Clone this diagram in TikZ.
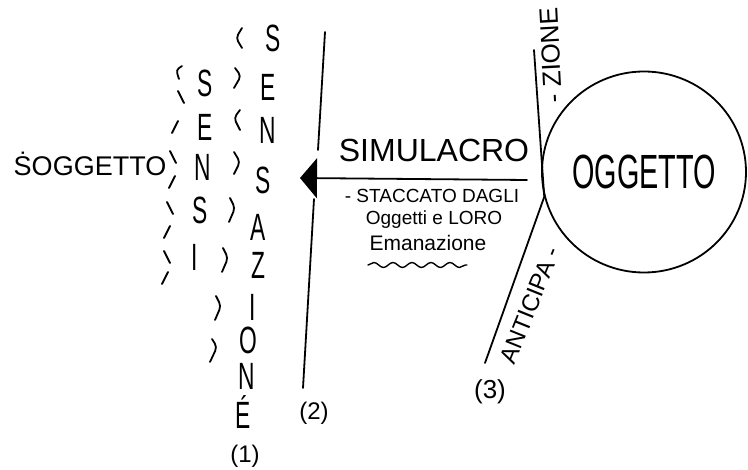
\documentclass[tikz,border=0pt]{standalone}
\usepackage{fontspec}
\setmainfont{Liberation Sans}
\newfontfamily\tallfont[FakeStretch=0.6]{Liberation Sans}
\usetikzlibrary{positioning,shapes,arrows.meta,decorations.pathmorphing}

\begin{document}
\begin{tikzpicture}[x=1pt, y=-1pt,
        pen/.style={line width=1.8pt, line cap=round, line join=round},
        letter/.style={inner sep=0pt, font=\tallfont\fontsize{38}{38}\selectfont},
        note/.style={inner sep=0pt, font=\fontsize{19}{19}\selectfont}]
    \useasboundingbox (0,0) rectangle (748,470);

    \node[inner sep=0pt, font=\fontsize{27}{27}\selectfont] (SOGG) at (90,164) {\.{S}OGGETTO};

    % sensi
    \node[letter] (SE1) at (205,83) {S};
    \node[letter] (SE2) at (205,127) {E};
    \node[letter] (SE3) at (203,167) {N};
    \node[letter] (SE4) at (200,210) {S};
    \node[letter] (SE5) at (195,257) {I};

    % sensazione
    \node[letter] (SZ1) at (273,38) {S};
    \node[letter] (SZ2) at (268,87) {E};
    \node[letter] (SZ3) at (268,130) {N};
    \node[letter] (SZ4) at (263,180) {S};
    \node[letter] (SZ5) at (258,227) {A};
    \node[letter] (SZ6) at (258,265) {Z};
    \node[letter] (SZ7) at (253,307) {I};
    \node[letter] (SZ8) at (248,340) {O};
    \node[letter] (SZ9) at (247,376) {N};
    \node[letter] (SZ10) at (243,412) {\'E};
    \node[inner sep=0pt, font=\fontsize{24}{24}\selectfont] (N1) at (245,456) {(1)};

    % marks left of sensi
    \draw[pen] (182,66) .. controls (176,70) .. (179,79);
    \draw[pen] (178,91) -- (184,103);
    \draw[pen] (178,121) -- (172,133);
    \draw[pen] (170,151) -- (176,163);
    \draw[pen] (175,176) -- (169,188);
    \draw[pen] (167,202) -- (173,214);
    \draw[pen] (170,226) -- (164,238);
    \draw[pen] (164,251) -- (170,263);
    \draw[pen] (168,272) -- (162,284);

    % marks between sensi and sensazione
    \draw[pen, rounded corners=4pt] (242,28) -- (236,38) -- (242,48);
    \draw[pen, rounded corners=4pt] (235,68) -- (241,76) -- (234,88);
    \draw[pen, rounded corners=4pt] (240,110) -- (234,118) -- (240,130);
    \draw[pen, rounded corners=4pt] (234,152) -- (240,162) -- (234,174);
    \draw[pen, rounded corners=4pt] (230,198) -- (235,208) -- (229,222);
    \draw[pen, rounded corners=4pt] (223,248) -- (228,258) -- (222,272);
    \draw[pen, rounded corners=4pt] (216,296) -- (221,306) -- (215,320);
    \draw[pen, rounded corners=4pt] (212,339) -- (217,347) -- (210,362);

    % line (2)
    \coordinate (L2top) at (325,32);
    \coordinate (L2a) at (318,150);
    \coordinate (L2b) at (314,199);
    \coordinate (L2bot) at (303,388);
    \draw[pen] (L2top) -- (L2a);
    \draw[pen] (L2b) -- (L2bot);
    \node[inner sep=0pt, font=\fontsize{24}{24}\selectfont] (N2) at (314,413) {(2)};

    % simulacro
    \node[inner sep=0pt, font=\fontsize{32}{32}\selectfont] (SIM) at (434,150) {SIMULACRO};
    \coordinate (simEnd) at (527,180);
    \coordinate (tip) at (300,178);
    \draw[pen, -{Triangle[length=17pt, width=40pt]}] (simEnd) -- (tip);
    \node[note] (STA) at (432,196) {- STACCATO DAGLI};
    \node[note] (OGL) at (434,220) {Oggetti e LORO};
    \node[note, font=\fontsize{21}{21}\selectfont] (EMA) at (428,243) {Emanazione};
    \draw[pen, line width=1.4pt, decorate, decoration={snake, amplitude=2.5pt, segment length=19pt}] (368,265) -- (467,265);

    % oggetto
    \node[ellipse, draw, pen, minimum width=204pt, minimum height=201pt, inner sep=0pt,
        font=\tallfont\fontsize{48}{48}\selectfont] (OGG) at (644,172) {OGGETTO};
    \coordinate (ATop) at (534,50);
    \coordinate (ABot) at (485,363);
    \draw[pen] (ATop) -- (OGG.194) -- (ABot);
    \node[rotate=93, inner sep=0pt, font=\fontsize{26}{26}\selectfont] (ZIO) at (551,55) {- ZIONE};
    \node[rotate=68, inner sep=0pt, font=\fontsize{24}{24}\selectfont] (ANT) at (530,305) {ANTICIPA -};
    \node[inner sep=0pt, font=\fontsize{26}{26}\selectfont] (N3) at (490,392) {(3)};
\end{tikzpicture}
\end{document}
